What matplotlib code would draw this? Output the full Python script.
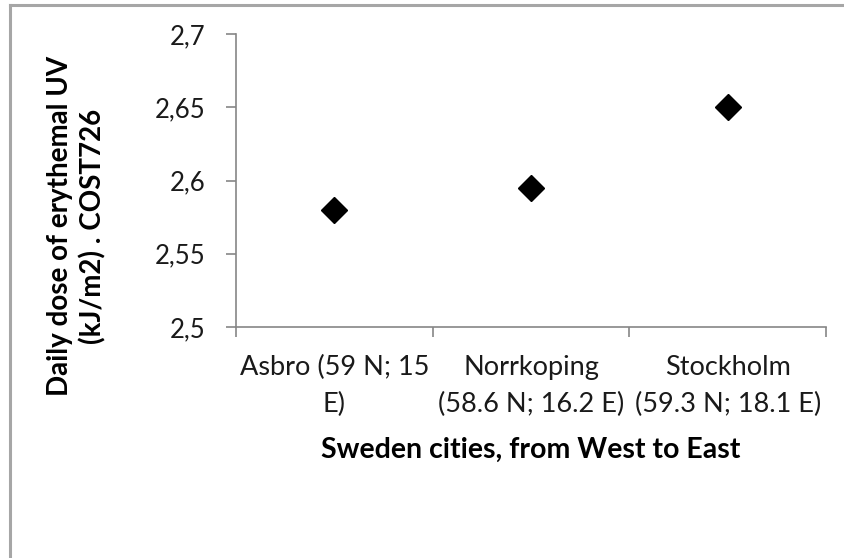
import matplotlib.pyplot as plt
from matplotlib.lines import Line2D
from matplotlib.ticker import FixedLocator, FuncFormatter

# values
cities = ['Asbro (59 N; 15\nE)', 'Norrkoping\n(58.6 N; 16.2 E)', 'Stockholm\n(59.3 N; 18.1 E)']
uv_dose = [2.58, 2.595, 2.65]
y_ticks = [2.5, 2.55, 2.6, 2.65, 2.7]

plt.rcParams['font.family'] = ['Lato', 'DejaVu Sans']

fig = plt.figure(figsize=(8.44, 5.58), dpi=100)
ax = fig.add_axes([236 / 844, 1 - 327 / 558, (826 - 236) / 844, (327 - 34) / 558])

x = list(range(len(cities)))
ax.plot(x, uv_dose, linestyle='none', marker='D', markersize=13.5, color='black')

ax.set_xlim(-0.5, len(cities) - 0.5)
ax.set_ylim(2.5, 2.7)

axis_grey = '#868686'
for side in ['top', 'right']:
    ax.spines[side].set_visible(False)
for side in ['left', 'bottom']:
    ax.spines[side].set_color(axis_grey)
    ax.spines[side].set_linewidth(1.2)

ax.yaxis.set_major_locator(FixedLocator(y_ticks))
ax.yaxis.set_major_formatter(FuncFormatter(lambda v, p: f'{v:g}'.replace('.', ',')))
ax.tick_params(axis='y', length=7, width=1.2, color=axis_grey, labelsize=18.5, pad=15,
               labelcolor='#1a1a1a')

# category labels at centres, tick marks between categories
ax.set_xticks(x)
ax.set_xticklabels(cities, fontsize=19.5, linespacing=1.6, color='#1a1a1a')
ax.tick_params(axis='x', which='major', length=0, pad=20)
ax.set_xticks([i - 0.5 for i in range(len(cities) + 1)], minor=True)
ax.tick_params(axis='x', which='minor', length=7, width=1.2, color=axis_grey)

ax.set_xlabel('Sweden cities, from West to East', fontsize=20.5, fontweight='bold')
ax.xaxis.set_label_coords(0.5, -(450 - 327) / 293, transform=ax.transAxes)
ax.xaxis.label.set_va('center')
ax.set_ylabel('Daily dose of erythemal UV\n(kJ/m2) . COST726', fontsize=20,
              fontweight='bold', linespacing=1.3)
ax.yaxis.set_label_coords(-(236 - 77) / 590, (327 - 226) / 293, transform=ax.transAxes)
ax.yaxis.label.set_va('center')

# chart frame visible on top and left of the screenshot
frame = '#a6a6a6'
fig.add_artist(Line2D([10 / 844, 1], [1 - 5 / 558, 1 - 5 / 558], color=frame, lw=2.2,
                      transform=fig.transFigure))
fig.add_artist(Line2D([10 / 844, 10 / 844], [0, 1 - 5 / 558], color=frame, lw=2.2,
                      transform=fig.transFigure))

fig.savefig('out.png', dpi=100)
